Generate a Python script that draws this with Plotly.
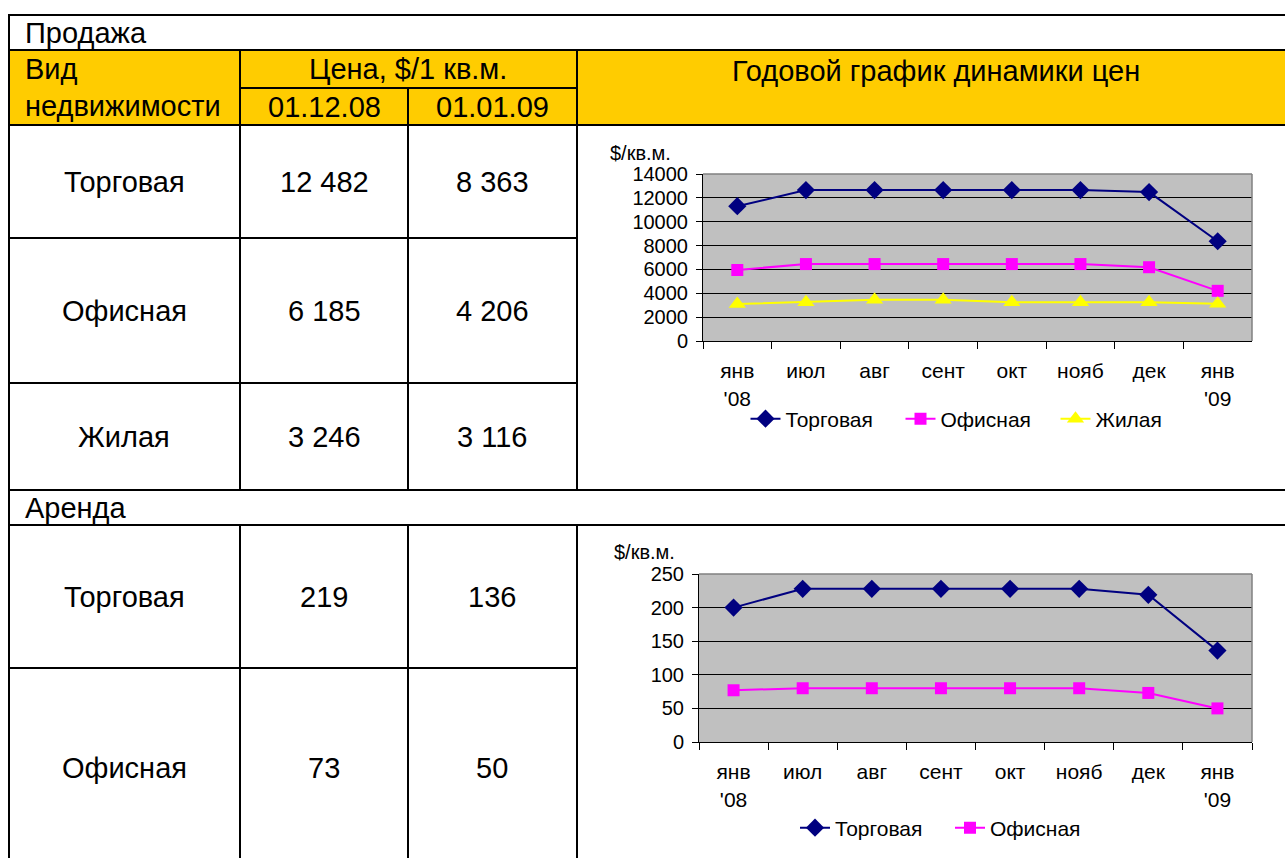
import plotly.graph_objects as go

# ---------------- data ----------------
months = ["янв<br>'08", "июл", "авг", "сент", "окт", "нояб", "дек", "янв<br>'09"]

sale_trade = [11300, 12650, 12650, 12650, 12650, 12650, 12482, 8363]
sale_office = [5950, 6450, 6450, 6450, 6450, 6450, 6185, 4206]
sale_living = [3100, 3250, 3450, 3450, 3250, 3250, 3246, 3116]

rent_trade = [200, 228, 228, 228, 228, 228, 219, 136]
rent_office = [77, 80, 80, 80, 80, 80, 73, 50]

sale_kinds = ["Торговая", "Офисная", "Жилая"]
sale_dec = [12482, 6185, 3246]
sale_jan = [8363, 4206, 3116]

rent_kinds = ["Торговая", "Офисная"]
rent_dec = [219, 73]
rent_jan = [136, 50]

date_cols = ["01.12.08", "01.01.09"]

# ---------------- layout helpers ----------------
W, H = 1285, 858
FONT = "Liberation Sans, Arial, sans-serif"
TS = 29  # table font size


def px(x):
    return x / W


def py(y):
    return 1 - y / H


def fmt(v):
    return f"{v:,}".replace(",", " ")


shapes = []
annotations = []

# yellow header band
shapes.append(dict(type="rect", xref="paper", yref="paper", x0=px(9), x1=1,
                   y0=py(50), y1=py(125), fillcolor="#FFCC00", line=dict(width=0), layer="below"))


def hline(y, x0, x1):
    shapes.append(dict(type="line", xref="paper", yref="paper", x0=px(x0), x1=px(x1),
                       y0=py(y), y1=py(y), line=dict(color="black", width=2)))


def vline(x, y0, y1):
    shapes.append(dict(type="line", xref="paper", yref="paper", x0=px(x), x1=px(x),
                       y0=py(y0), y1=py(y1), line=dict(color="black", width=2)))


R = W
hline(15, 8, R)
hline(50, 8, R)
hline(88, 240, 577)
hline(125, 8, R)
hline(238, 8, 577)
hline(383, 8, 577)
hline(490, 8, R)
hline(525, 8, R)
hline(668, 8, 577)

vline(9, 14, H)
for xv in (240, 408, 577):
    vline(xv, 125, 490)
    vline(xv, 525, H)
vline(240, 50, 125)
vline(408, 88, 125)
vline(577, 50, 125)


def text(s, x, y, anchor="center", size=TS):
    annotations.append(dict(text=s, x=px(x), y=py(y), xref="paper", yref="paper",
                            xanchor=anchor, yanchor="middle", showarrow=False,
                            font=dict(family=FONT, size=size, color="black")))


text("Продажа", 23, 33, "left")
text("Вид", 23, 69, "left")
text("недвижимости", 23, 106, "left")
text("Цена, $/1 кв.м.", 408, 69)
text(date_cols[0], 324, 107)
text(date_cols[1], 492, 107)
text("Годовой график динамики цен", 936, 71)

for name, yv in zip(sale_kinds, (182, 311, 437)):
    text(name, 124, yv)
for v, yv in zip(sale_dec, (182, 311, 437)):
    text(fmt(v), 324, yv)
for v, yv in zip(sale_jan, (182, 311, 437)):
    text(fmt(v), 492, yv)

text("Аренда", 23, 508, "left")
for name, yv in zip(rent_kinds, (597, 768)):
    text(name, 124, yv)
for v, yv in zip(rent_dec, (597, 768)):
    text(fmt(v), 324, yv)
for v, yv in zip(rent_jan, (597, 768)):
    text(fmt(v), 492, yv)

text("$/кв.м.", 608, 153, "left", 20)
text("$/кв.м.", 612, 552, "left", 20)

# plot-area gray borders (top & right)
for xr, yr in (("x domain", "y domain"), ("x2 domain", "y2 domain")):
    shapes.append(dict(type="line", xref=xr, yref=yr, x0=0, x1=1, y0=1, y1=1,
                       line=dict(color="#808080", width=1.5)))
    shapes.append(dict(type="line", xref=xr, yref=yr, x0=1, x1=1, y0=0, y1=1,
                       line=dict(color="#808080", width=1.5)))

# ---------------- traces ----------------
NAVY, MAG, YEL = "#000080", "#FF00FF", "#FFFF00"

fig = go.Figure()
fig.add_trace(go.Scatter(x=months, y=sale_trade, name="Торговая", mode="lines+markers",
                         line=dict(color=NAVY, width=2),
                         marker=dict(symbol="diamond", size=14, color=NAVY),
                         xaxis="x", yaxis="y", legend="legend"))
fig.add_trace(go.Scatter(x=months, y=sale_office, name="Офисная", mode="lines+markers",
                         line=dict(color=MAG, width=2),
                         marker=dict(symbol="square", size=12, color=MAG),
                         xaxis="x", yaxis="y", legend="legend"))
fig.add_trace(go.Scatter(x=months, y=sale_living, name="Жилая", mode="lines+markers",
                         line=dict(color=YEL, width=2),
                         marker=dict(symbol="triangle-up", size=15, color=YEL),
                         xaxis="x", yaxis="y", legend="legend"))

fig.add_trace(go.Scatter(x=months, y=rent_trade, name="Торговая", mode="lines+markers",
                         line=dict(color=NAVY, width=2),
                         marker=dict(symbol="diamond", size=14, color=NAVY),
                         xaxis="x2", yaxis="y2", legend="legend2"))
fig.add_trace(go.Scatter(x=months, y=rent_office, name="Офисная", mode="lines+markers",
                         line=dict(color=MAG, width=2),
                         marker=dict(symbol="square", size=12, color=MAG),
                         xaxis="x2", yaxis="y2", legend="legend2"))

xtickfont = dict(family=FONT, size=21, color="black")
ytickfont = dict(family=FONT, size=20, color="black")

xcommon = dict(type="category", categoryorder="array", categoryarray=months,
               range=[-0.5, len(months) - 0.5], tickson="boundaries",
               ticks="outside", ticklen=7, tickcolor="black", tickwidth=1,
               showline=True, linecolor="black", linewidth=1, showgrid=False,
               tickfont=xtickfont, fixedrange=True, ticklabelstandoff=11,
               automargin=False)
ycommon = dict(showline=True, linecolor="black", linewidth=1, ticks="outside",
               ticklen=6, tickcolor="black", showgrid=True, gridcolor="black",
               gridwidth=1, zeroline=False, tickfont=ytickfont, fixedrange=True,
               ticklabelstandoff=4, tickformat="d", automargin=False)

legfont = dict(family=FONT, size=21, color="black")
legcommon = dict(xanchor="center", yanchor="middle", orientation="h", font=legfont,
                 bgcolor="rgba(0,0,0,0)", entrywidth=110, entrywidthmode="pixels")

fig.update_layout(
    width=W, height=H,
    margin=dict(l=0, r=0, t=0, b=0, pad=0, autoexpand=False),
    paper_bgcolor="white",
    plot_bgcolor="#C0C0C0",
    xaxis=dict(domain=[px(703), px(1252)], anchor="y", **xcommon),
    yaxis=dict(domain=[py(341), py(174)], anchor="x", range=[0, 14000], dtick=2000, **ycommon),
    xaxis2=dict(domain=[px(699), px(1252)], anchor="y2", **xcommon),
    yaxis2=dict(domain=[py(742), py(574)], anchor="x2", range=[0, 250], dtick=50, **ycommon),
    legend=dict(x=px(978), y=py(419), **legcommon),
    legend2=dict(x=px(950), y=py(828), **legcommon),
    shapes=shapes,
    annotations=annotations,
    font=dict(family=FONT, color="black"),
)

fig.write_html("out.html", config={"displayModeBar": False},
               post_script="document.body.style.margin='0';document.body.style.overflow='hidden';")
